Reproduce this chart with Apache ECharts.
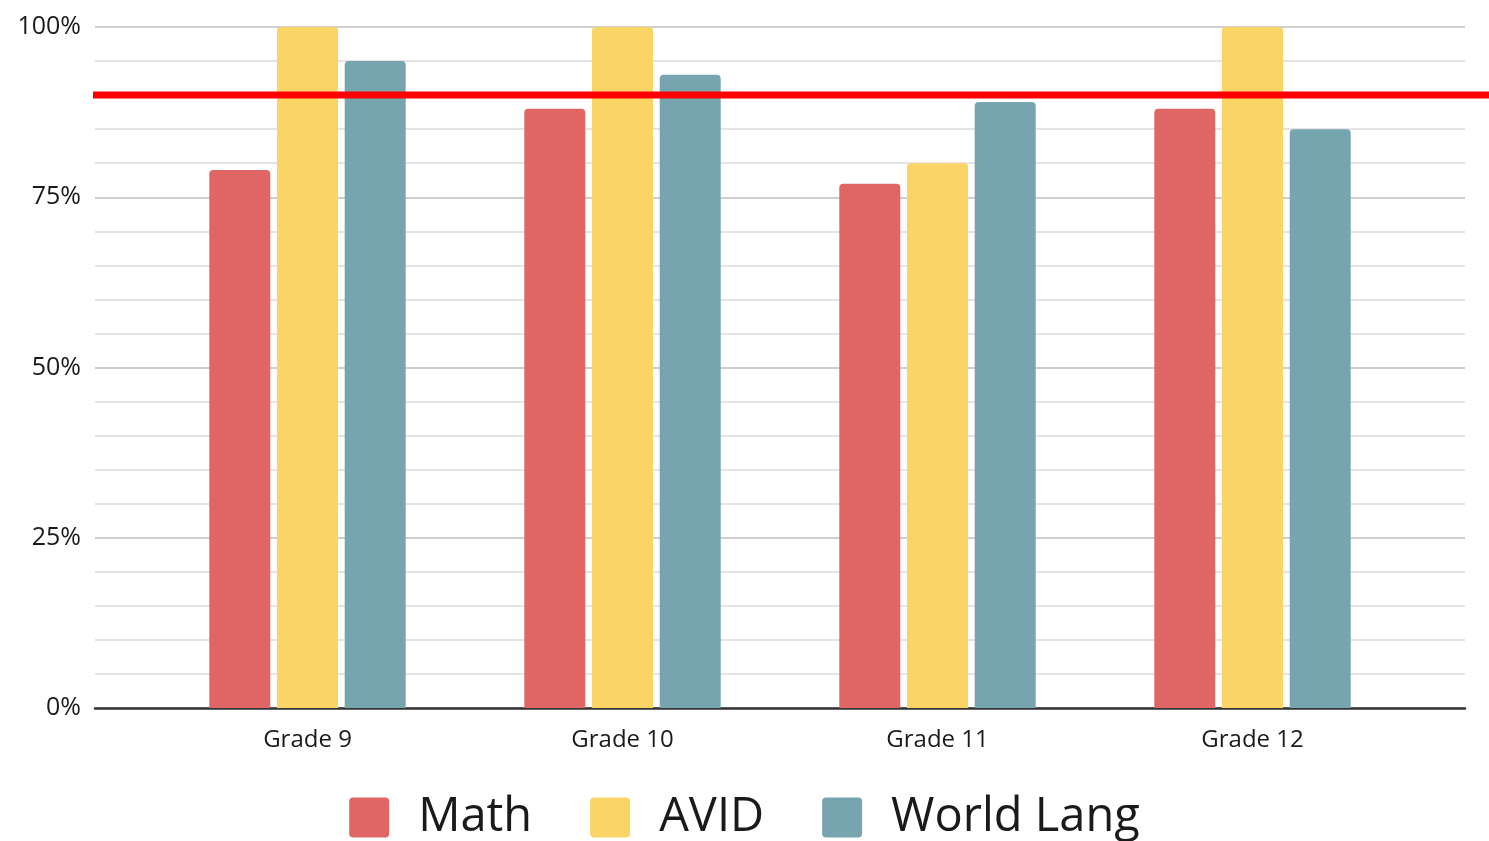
<!DOCTYPE html>
<html>
<head>
<meta charset="utf-8">
<style>
  html, body { margin: 0; padding: 0; background: #ffffff; }
  #chart { width: 1489px; height: 841px; }
</style>
<script src="https://cdn.jsdelivr.net/npm/echarts@6/dist/echarts.min.js"></script>
</head>
<body>
<div id="chart"></div>
<script>
// Grades and subject completion rates (percent)
const grades = ['Grade 9', 'Grade 10', 'Grade 11', 'Grade 12'];
const mathRates = [79, 88, 77, 88];
const avidRates = [100, 100, 80, 100];
const worldLangRates = [95, 93, 89, 85];
const targetRate = 90;
const yTicks = [0, 25, 50, 75, 100];

const seriesColors = { math: '#E06666', avid: '#FAD565', lang: '#76A5AF' };
const fontFamily = '"Open Sans", "Noto Sans", sans-serif';

// Square legend swatch with slightly rounded corners
const swatchIcon = 'path://M4,0 H36 Q40,0 40,4 V36 Q40,40 36,40 H4 Q0,40 0,36 V4 Q0,0 4,0 Z';

const chart = echarts.init(document.getElementById('chart'));

const barStyle = (color) => ({ color: color, borderRadius: [4, 4, 0, 0] });

const option = {
  animation: false,
  backgroundColor: '#ffffff',
  grid: [
    // frame grid: gridlines, y labels, baseline
    { left: 95, right: 24, top: 27, bottom: 133 },
    // bar grid: inset so the bar groups sit inside the frame
    { left: 150, right: 79, top: 27, bottom: 133 }
  ],
  legend: {
    top: 789,
    left: 'center',
    itemWidth: 40,
    itemHeight: 40,
    itemGap: 58,
    icon: swatchIcon,
    textStyle: { fontFamily: fontFamily, fontSize: 47, color: '#1a1a1a', padding: [0, 0, 0, 24] },
    data: ['Math', 'AVID', 'World Lang']
  },
  xAxis: [
    {
      gridIndex: 0, type: 'category', data: grades,
      axisLine: { show: true, lineStyle: { color: '#333', width: 2.5 } },
      axisTick: { show: false }, axisLabel: { show: false }, splitLine: { show: false }
    },
    {
      gridIndex: 1, type: 'category', data: grades,
      axisLine: { show: false }, axisTick: { show: false },
      axisLabel: { color: '#1a1a1a', fontFamily: fontFamily, fontSize: 24, margin: 20 }
    }
  ],
  yAxis: [
    {
      gridIndex: 0, type: 'value', min: 0, max: 100, interval: 5,
      axisLine: { show: false }, axisTick: { show: false },
      axisLabel: {
        color: '#1a1a1a', fontFamily: fontFamily, fontSize: 25, margin: 14,
        formatter: (v) => (yTicks.includes(v) ? v + '%' : '')
      },
      splitLine: {
        show: true,
        lineStyle: { width: 2, color: ['#cfcfcf', '#e4e4e4', '#e4e4e4', '#e4e4e4', '#e4e4e4'] }
      }
    },
    {
      gridIndex: 1, type: 'value', min: 0, max: 100, interval: 5, show: false
    }
  ],
  series: [
    {
      name: 'Math', type: 'bar', xAxisIndex: 1, yAxisIndex: 1,
      data: mathRates, barWidth: 61, barGap: '11%',
      itemStyle: barStyle(seriesColors.math)
    },
    {
      name: 'AVID', type: 'bar', xAxisIndex: 1, yAxisIndex: 1,
      data: avidRates, barWidth: 61, barGap: '11%',
      itemStyle: barStyle(seriesColors.avid)
    },
    {
      name: 'World Lang', type: 'bar', xAxisIndex: 1, yAxisIndex: 1,
      data: worldLangRates, barWidth: 61, barGap: '11%',
      itemStyle: barStyle(seriesColors.lang)
    }
  ]
};

chart.setOption(option);

// Target line: spans from the plot's left edge to the right edge of the canvas
const targetY = chart.convertToPixel({ yAxisIndex: 0 }, targetRate);
const gridRect = chart.getModel().getComponent('grid', 0).coordinateSystem.getRect();
chart.setOption({
  graphic: [{
    type: 'line',
    z: 100,
    shape: { x1: gridRect.x - 2, y1: targetY, x2: chart.getWidth(), y2: targetY },
    style: { stroke: '#FF0000', lineWidth: 7 }
  }]
});
</script>
</body>
</html>
